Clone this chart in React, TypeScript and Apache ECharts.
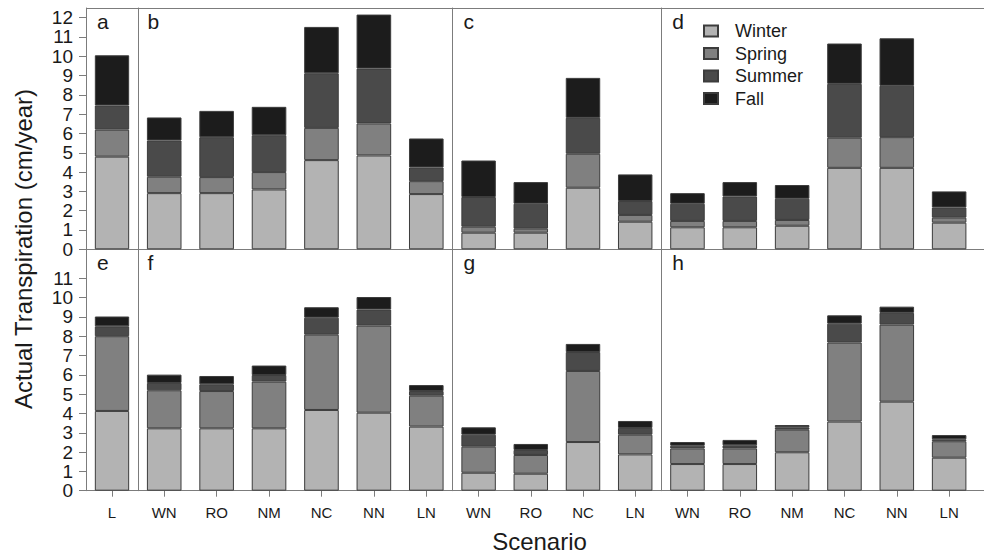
import React, { useEffect, useRef } from "react";
import * as echarts from "echarts";

// ---------- data (segment heights, cm/year) ----------
const catsL = ["L"];
const catsSix = ["WN", "RO", "NM", "NC", "NN", "LN"];
const catsFour = ["WN", "RO", "NC", "LN"];

const seasons = ["Winter", "Spring", "Summer", "Fall"];

// panel a
const aWinter = [4.8];
const aSpring = [1.4];
const aSummer = [1.25];
const aFall = [2.6];
// panel b
const bWinter = [2.91, 2.91, 3.1, 4.62, 4.86, 2.86];
const bSpring = [0.85, 0.83, 0.9, 1.67, 1.66, 0.67];
const bSummer = [1.88, 2.07, 1.91, 2.83, 2.84, 0.71];
const bFall = [1.19, 1.36, 1.47, 2.4, 2.8, 1.5];
// panel c
const cWinter = [0.86, 0.86, 3.19, 1.43];
const cSpring = [0.31, 0.21, 1.76, 0.35];
const cSummer = [1.54, 1.29, 1.86, 0.72];
const cFall = [1.89, 1.12, 2.07, 1.38];
// panel d
const dWinter = [1.14, 1.14, 1.22, 4.22, 4.22, 1.38];
const dSpring = [0.33, 0.33, 0.3, 1.56, 1.59, 0.26];
const dSummer = [0.89, 1.27, 1.1, 2.79, 2.66, 0.53];
const dFall = [0.55, 0.74, 0.71, 2.09, 2.46, 0.83];
// panel e
const eWinter = [4.13];
const eSpring = [3.87];
const eSummer = [0.51];
const eFall = [0.51];
// panel f
const fWinter = [3.23, 3.23, 3.23, 4.18, 4.04, 3.32];
const fSpring = [1.97, 1.93, 2.42, 3.9, 4.51, 1.6];
const fSummer = [0.38, 0.35, 0.34, 0.88, 0.83, 0.24];
const fFall = [0.43, 0.43, 0.49, 0.54, 0.65, 0.31];
// panel g
const gWinter = [0.93, 0.88, 2.52, 1.88];
const gSpring = [1.35, 0.97, 3.68, 1.02];
const gSummer = [0.62, 0.26, 0.98, 0.35];
const gFall = [0.38, 0.31, 0.42, 0.36];
// panel h
const hWinter = [1.38, 1.38, 1.99, 3.58, 4.61, 1.71];
const hSpring = [0.81, 0.81, 1.17, 4.09, 3.99, 0.85];
const hSummer = [0.14, 0.16, 0.12, 0.98, 0.61, 0.1];
const hFall = [0.19, 0.28, 0.12, 0.43, 0.32, 0.22];

const topTicks = [0, 1, 2, 3, 4, 5, 6, 7, 8, 9, 10, 11, 12];
const bottomTicks = [0, 1, 2, 3, 4, 5, 6, 7, 8, 9, 10, 11];

// ---------- styles ----------
const FONT = "'Liberation Sans', Arial, Helvetica, sans-serif";
const seasonColors = ["#b3b3b3", "#808080", "#4a4a4a", "#1c1c1c"];
const LINE = "#7c7c7c";
const TEXT = "#1a1a1a";

const colLeft = [86, 138, 452.5, 661.3];
const colWidth = [52, 314.5, 208.8, 314];
const rowTop = [8, 249.3];
const rowHeight = [241.3, 241.4];

const panels = [
  { letter: "a", row: 0, col: 0, cats: catsL, data: [aWinter, aSpring, aSummer, aFall] },
  { letter: "b", row: 0, col: 1, cats: catsSix, data: [bWinter, bSpring, bSummer, bFall] },
  { letter: "c", row: 0, col: 2, cats: catsFour, data: [cWinter, cSpring, cSummer, cFall] },
  { letter: "d", row: 0, col: 3, cats: catsSix, data: [dWinter, dSpring, dSummer, dFall] },
  { letter: "e", row: 1, col: 0, cats: catsL, data: [eWinter, eSpring, eSummer, eFall] },
  { letter: "f", row: 1, col: 1, cats: catsSix, data: [fWinter, fSpring, fSummer, fFall] },
  { letter: "g", row: 1, col: 2, cats: catsFour, data: [gWinter, gSpring, gSummer, gFall] },
  { letter: "h", row: 1, col: 3, cats: catsSix, data: [hWinter, hSpring, hSummer, hFall] },
];

function buildOption() {
  const grid: any[] = [];
  const xAxis: any[] = [];
  const yAxis: any[] = [];
  const series: any[] = [];
  const graphic: any[] = [];

  panels.forEach((p, i) => {
    grid.push({
      left: colLeft[p.col],
      top: rowTop[p.row],
      width: colWidth[p.col],
      height: rowHeight[p.row],
      containLabel: false,
    });
    const isBottom = p.row === 1;
    xAxis.push({
      type: "category",
      gridIndex: i,
      data: p.cats,
      boundaryGap: true,
      axisLine: { show: true, lineStyle: { color: LINE, width: 1 } },
      axisTick: {
        show: isBottom,
        alignWithLabel: true,
        length: 6,
        lineStyle: { color: LINE },
      },
      axisLabel: {
        show: isBottom,
        margin: 14,
        fontSize: 15,
        color: TEXT,
        fontFamily: FONT,
      },
      splitLine: { show: false },
    });
    const isFirstCol = p.col === 0;
    const ticks = p.row === 0 ? topTicks : bottomTicks;
    yAxis.push({
      type: "value",
      gridIndex: i,
      min: 0,
      max: 12.5,
      axisLine: { show: true, lineStyle: { color: LINE, width: 1 } },
      axisTick: {
        show: isFirstCol,
        length: 7,
        customValues: ticks,
        lineStyle: { color: LINE },
      },
      axisLabel: {
        show: isFirstCol,
        customValues: ticks,
        margin: 13,
        fontSize: 19,
        color: TEXT,
        fontFamily: FONT,
      },
      splitLine: { show: false },
    });
    p.data.forEach((vals, s) => {
      series.push({
        type: "bar",
        name: seasons[s],
        xAxisIndex: i,
        yAxisIndex: i,
        stack: "panel" + i,
        barWidth: "66%",
        data: vals,
        itemStyle: {
          color: seasonColors[s],
          borderColor: "#3c3c3c",
          borderWidth: 1,
        },
        emphasis: { disabled: true },
      });
    });
    graphic.push({
      type: "text",
      x: colLeft[p.col] + (p.col === 0 ? 11 : p.col === 1 ? 9.5 : 11),
      y: rowTop[p.row] + (p.row === 0 ? 13 : 13.5),
      style: {
        text: p.letter,
        fill: TEXT,
        font: `21px ${FONT}`,
        textAlign: "left",
        textVerticalAlign: "middle",
      },
    });
  });

  // frame top line and right-hand extensions
  graphic.push({
    type: "line",
    shape: { x1: 86, y1: 8.5, x2: 984, y2: 8.5 },
    style: { stroke: LINE, lineWidth: 1 },
  });
  graphic.push({
    type: "line",
    shape: { x1: 975, y1: 249.5, x2: 984, y2: 249.5 },
    style: { stroke: LINE, lineWidth: 1 },
  });
  graphic.push({
    type: "line",
    shape: { x1: 975, y1: 490.5, x2: 984, y2: 490.5 },
    style: { stroke: LINE, lineWidth: 1 },
  });

  // axis titles
  graphic.push({
    type: "text",
    x: 23,
    y: 249,
    rotation: Math.PI / 2,
    style: {
      text: "Actual Transpiration (cm/year)",
      fill: TEXT,
      font: `24px ${FONT}`,
      textAlign: "center",
      textVerticalAlign: "middle",
    },
  });
  graphic.push({
    type: "text",
    x: 539.5,
    y: 541.6,
    style: {
      text: "Scenario",
      fill: TEXT,
      font: `24px ${FONT}`,
      textAlign: "center",
      textVerticalAlign: "middle",
    },
  });

  return {
    animation: false,
    backgroundColor: "#ffffff",
    textStyle: { fontFamily: FONT },
    legend: {
      data: seasons,
      orient: "vertical",
      left: 703,
      top: 22,
      padding: 0,
      icon: "rect",
      itemWidth: 14,
      itemHeight: 11,
      itemGap: 4.5,
      selectedMode: false,
      textStyle: {
        fontSize: 18,
        color: TEXT,
        fontFamily: FONT,
        padding: [0, 0, 0, 12],
      },
    },
    grid,
    xAxis,
    yAxis,
    series,
    graphic,
  };
}

export default function App() {
  const ref = useRef<HTMLDivElement | null>(null);
  useEffect(() => {
    if (!ref.current) return;
    const chart = echarts.init(ref.current, undefined, { renderer: "svg" });
    chart.setOption(buildOption() as any);
    return () => {
      chart.dispose();
    };
  }, []);
  return (
    <div
      ref={ref}
      style={{
        position: "fixed",
        left: 0,
        top: 0,
        width: 984,
        height: 557,
        background: "#fff",
      }}
    />
  );
}
